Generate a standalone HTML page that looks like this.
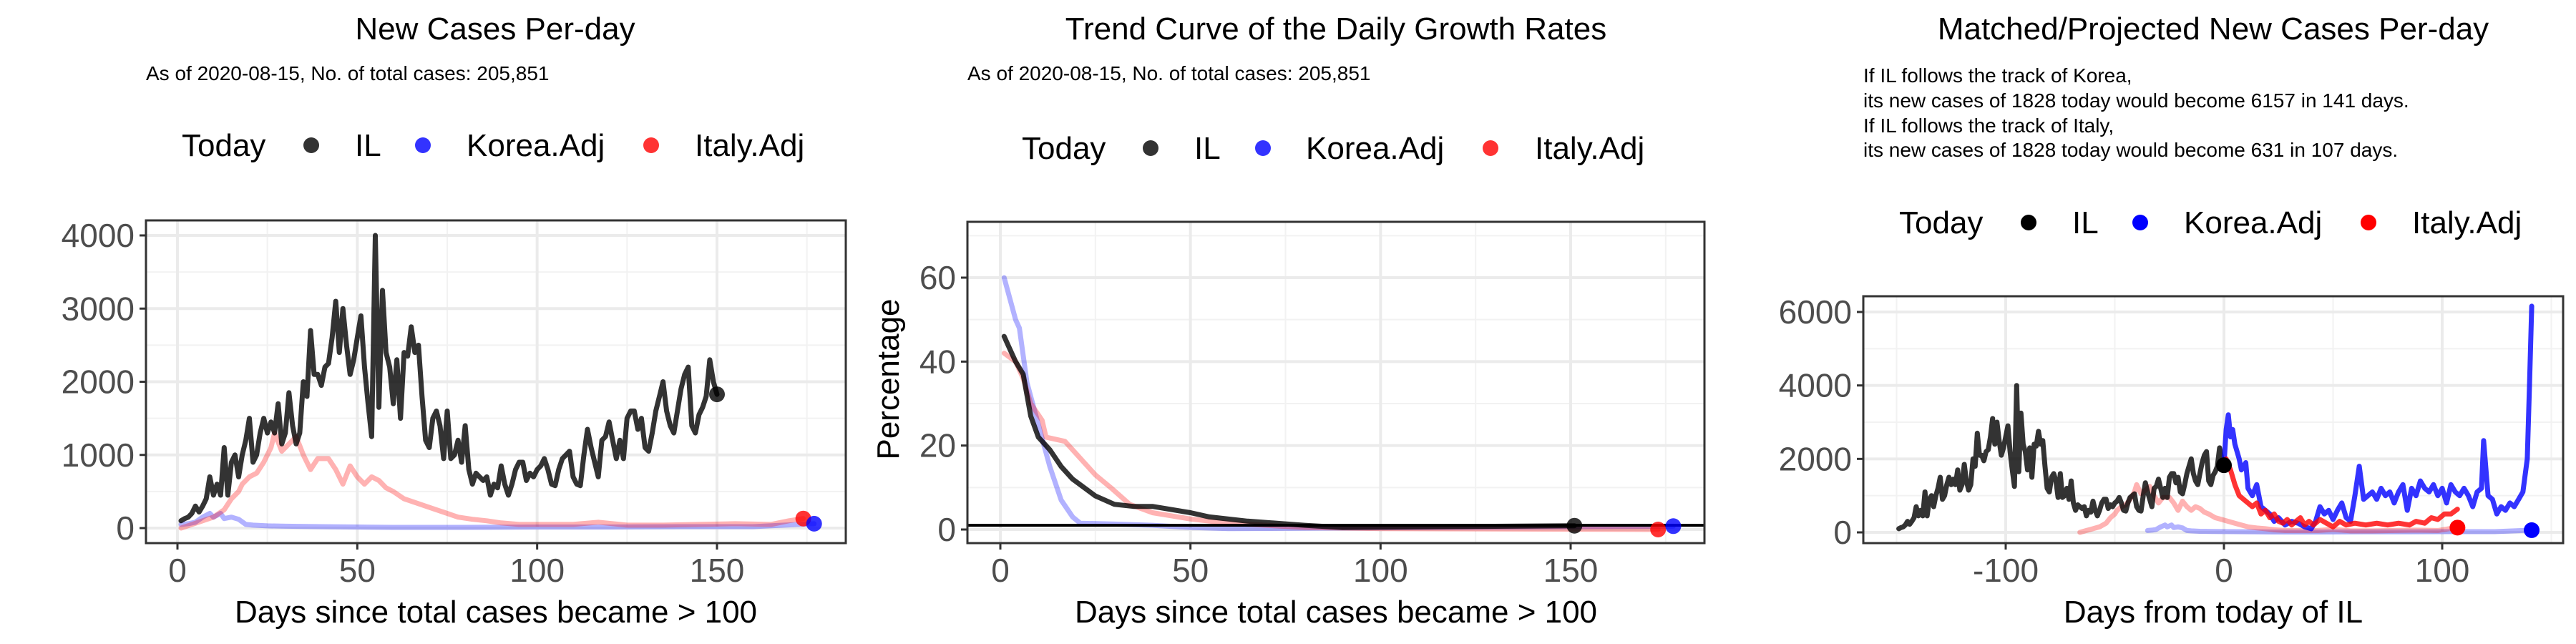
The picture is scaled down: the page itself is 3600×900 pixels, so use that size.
<!DOCTYPE html>
<html><head><meta charset="utf-8"><style>
html,body{margin:0;padding:0;background:#fff}
svg{display:block;font-family:"Liberation Sans",Arial,sans-serif}
</style></head><body>
<svg id="root" width="3600" height="900" viewBox="0 0 3600 900" xmlns="http://www.w3.org/2000/svg">
<rect width="3600" height="900" fill="#fff"/>
<g>
<text x="692" y="55" font-size="44" text-anchor="middle">New Cases Per-day</text>
<text x="204" y="112" font-size="28">As of 2020-08-15, No. of total cases: 205,851</text>
</g>
<g>
<text x="1867" y="55" font-size="44" text-anchor="middle">Trend Curve of the Daily Growth Rates</text>
<text x="1352" y="112" font-size="28">As of 2020-08-15, No. of total cases: 205,851</text>
</g>
<g>
<text x="3093" y="55" font-size="44" text-anchor="middle">Matched/Projected New Cases Per-day</text>
<g font-size="28">
<text x="2604" y="115">If IL follows the track of Korea,</text>
<text x="2604" y="150">its new cases of 1828 today would become 6157 in 141 days.</text>
<text x="2604" y="185">If IL follows the track of Italy,</text>
<text x="2604" y="219">its new cases of 1828 today would become 631 in 107 days.</text>
</g>
</g>
<g id="p1"></g>
<g id="p2"></g>
<g id="p3"></g>
<g id="legends"></g>
</svg>
<script>
// ---- data ----
const ilCases = [100,130,150,200,300,220,300,400,700,450,600,450,1100,450,900,1000,700,1000,1200,1500,
900,1000,1300,1500,1300,1450,1300,1700,1150,1300,1850,1400,1150,1300,2000,1800,2700,2100,2100,1950,
2200,2250,2600,3100,2400,3000,2500,2100,2300,2600,2900,2200,1700,1250,4000,1650,3250,2400,2200,1700,
2300,1500,2400,2350,2750,2400,2500,1800,1200,1100,1500,1600,1400,950,1600,950,1000,1200,900,1400,
800,600,750,700,650,700,450,600,550,850,600,450,600,800,900,900,650,750,700,800,
850,950,800,600,580,800,950,1000,1050,700,600,580,1000,1350,1100,900,700,1200,1250,1450,
1200,950,1200,950,1500,1600,1600,1350,1500,1100,1050,1300,1600,1800,2000,1600,1400,1300,1600,1900,
2100,2200,1400,1300,1550,1650,1800,2300,2000,1828];
const koreaDays = [1,3,5,7,9,10,12,13,15,17,19,21,25,30,40,50,60,80,100,120,140,160,177];
const koreaCases = [50,60,80,150,200,150,200,130,150,120,50,40,30,25,20,15,10,10,15,15,20,20,60];
const italyDays = [1,4,7,10,13,15,17,18,20,22,24,26,27,29,31,33,35,37,39,42,44,46,48,50,52,54,56,58,60,63,66,69,72,75,78,82,86,90,95,100,110,117,125,135,145,155,165,170,174];
const italyCases = [0,50,100,150,250,400,500,600,700,750,900,1100,1300,1050,1150,1250,1000,800,950,950,800,600,850,700,600,700,650,550,500,400,350,300,250,200,150,120,100,70,50,50,50,80,40,40,50,60,50,100,130];
const ilRateDays = [1,2,4,6,8,10,13,16,19,22,25,30,35,40,50,55,65,80,90,120,151];
const ilRate = [46,44,40,37,27,22,19,15,12,10,8,6,5.5,5.5,4,3,2,1,0.5,0.7,0.9];
const koreaRateDays = [1,4,5,7,10,13,16,19,21,30,40,50,60,177];
const koreaRate = [60,50,48,35,25,15,7,3,1.5,1.3,1,0.5,0.2,0.8];
const italyRateDays = [1,4,6,8,11,12,17,21,25,29,34,40,50,60,80,100,173];
const italyRate = [42,40,36,30,26,22,21,17,13,10,6,4,2.5,1.5,0.5,0.2,0];
const koreaProjDays = [0,1,2,3,4,5,7,8,10,11,13,15,17,19,21,23,25,28,31,34,37,40,42,44,46,48,50,52,54,56,58,60,62,64,66,68,70,72,74,76,78,80,82,84,86,88,90,92,94,96,98,100,102,104,106,108,110,112,114,116,118,119,121,123,125,127,129,131,133,135,137,139,140,141];
const koreaProj = [1828,2800,3200,2600,2800,2400,2000,1700,1900,1200,1000,1300,700,600,500,300,400,200,300,250,150,100,300,700,500,600,350,600,800,400,300,1000,1800,900,1000,1100,900,1200,1000,1100,800,1100,1300,600,1200,1000,1400,1200,1100,1300,1000,1200,800,1300,1100,1000,1200,1000,700,1100,1200,2500,1000,900,500,700,600,800,700,900,1100,2000,4000,6157];
const italyProjDays = [0,1,3,5,7,9,11,13,15,17,19,21,23,25,27,29,31,33,35,37,39,41,44,47,50,53,56,60,65,70,75,80,85,88,92,95,98,101,104,107];
const italyProj = [1828,2000,1700,1300,1000,900,800,700,800,500,600,400,500,300,250,350,200,300,400,200,300,200,350,250,150,300,200,250,200,250,200,250,200,300,250,400,350,500,500,631];
const IL_TODAY = 150, KOREA_SHIFT = -36, ITALY_SHIFT = -67;
const p1xTicks = [0,50,100,150], p1yTicks = [0,1000,2000,3000,4000];
const p2xTicks = [0,50,100,150], p2yTicks = [0,20,40,60];
const p3xTicks = [-100,0,100], p3yTicks = [0,2000,4000,6000];

const NS = "http://www.w3.org/2000/svg";
function mk(parent, tag, attrs){const e=document.createElementNS(NS,tag);for(const k in attrs)e.setAttribute(k,attrs[k]);parent.appendChild(e);return e;}
function lin(d0,d1,r0,r1){return v=>r0+(v-d0)*(r1-r0)/(d1-d0);}

function panel(g, box, sx, sy, xTicks, yTicks, xMinor, yMinor, xTitle){
  const bg=mk(g,'rect',{x:box.x0,y:box.y0,width:box.x1-box.x0,height:box.y1-box.y0,fill:'#fff'});
  
  
  xMinor.forEach(v=>{const l=mk(g,'line',{x1:sx(v),x2:sx(v),y1:box.y0,y2:box.y1,stroke:'#f2f2f2','stroke-width':2});
    });
  yMinor.forEach(v=>{const l=mk(g,'line',{x1:box.x0,x2:box.x1,y1:sy(v),y2:sy(v),stroke:'#f2f2f2','stroke-width':2});
    });
  xTicks.forEach(v=>{const l=mk(g,'line',{x1:sx(v),x2:sx(v),y1:box.y0,y2:box.y1,stroke:'#ebebeb','stroke-width':4});
    
    const t=mk(g,'line',{x1:sx(v),x2:sx(v),y1:box.y1,y2:box.y1+9,stroke:'#333','stroke-width':3});
    
    const tx=mk(g,'text',{x:sx(v),y:box.y1+54,'font-size':46,fill:'#4d4d4d','text-anchor':'middle'});tx.textContent=v;
    });
  yTicks.forEach(v=>{const l=mk(g,'line',{x1:box.x0,x2:box.x1,y1:sy(v),y2:sy(v),stroke:'#ebebeb','stroke-width':4});
    
    const t=mk(g,'line',{x1:box.x0-9,x2:box.x0,y1:sy(v),y2:sy(v),stroke:'#333','stroke-width':3});
    
    const tx=mk(g,'text',{x:box.x0-16,y:sy(v)+16,'font-size':46,fill:'#4d4d4d','text-anchor':'end'});tx.textContent=v;
    });
  const xt=mk(g,'text',{x:(box.x0+box.x1)/2,y:870,'font-size':44,'text-anchor':'middle'});xt.textContent=xTitle;
  
}
function frame(g,box){const r=mk(g,'rect',{x:box.x0,y:box.y0,width:box.x1-box.x0,height:box.y1-box.y0,fill:'none',stroke:'#333','stroke-width':3});
  }
function line(g,xs,ys,sx,sy,color,name){
  const pts=xs.map((x,i)=>sx(x).toFixed(1)+','+sy(ys[i]).toFixed(1)).join(' ');
  const p=mk(g,'polyline',{points:pts,fill:'none',stroke:color,'stroke-width':7,'stroke-linejoin':'round','stroke-linecap':'round'});
  
}
function dot(g,x,y,color,name){const c=mk(g,'circle',{cx:x,cy:y,r:11,fill:color});
  }

const ilDays = ilCases.map((_,i)=>i+1);
const BLUEF='rgba(0,0,255,0.3)', REDF='rgba(255,0,0,0.3)', BLK='rgba(0,0,0,0.8)';

// Panel 1
{const g=document.getElementById('p1');const box={x0:204,x1:1182,y0:308,y1:759};
 const sx=lin(0,150,248,1002), sy=lin(0,4000,738,329);
 panel(g,box,sx,sy,p1xTicks,p1yTicks,[25,75,125,175],[500,1500,2500,3500],'Days since total cases became > 100');
 line(g,koreaDays,koreaCases,sx,sy,BLUEF,'korea-line');
 line(g,italyDays,italyCases,sx,sy,REDF,'italy-line');
 line(g,ilDays,ilCases,sx,sy,BLK,'il-line');
 dot(g,sx(IL_TODAY),sy(ilCases[ilCases.length-1]),BLK,'il-today-dot');
 dot(g,sx(italyDays[italyDays.length-1]),sy(italyCases[italyCases.length-1]),'rgba(255,0,0,0.8)','italy-today-dot');
 dot(g,sx(koreaDays[koreaDays.length-1]),sy(koreaCases[koreaCases.length-1]),'rgba(0,0,255,0.8)','korea-today-dot');
 frame(g,box);}

// Panel 2
{const g=document.getElementById('p2');const box={x0:1352,x1:2382,y0:310,y1:759};
 const sx=lin(0,150,1398,2195), sy=lin(0,60,740,388);
 panel(g,box,sx,sy,p2xTicks,p2yTicks,[25,75,125,175],[10,30,50,70],'Days since total cases became > 100');
 const yt=mk(g,'text',{x:0,y:0,'font-size':44,'text-anchor':'middle',transform:'translate(1256,530) rotate(-90)'});yt.textContent='Percentage';
 
 line(g,koreaRateDays,koreaRate,sx,sy,BLUEF,'korea-rate-line');
 line(g,italyRateDays,italyRate,sx,sy,REDF,'italy-rate-line');
 line(g,ilRateDays,ilRate,sx,sy,BLK,'il-rate-line');
 const h=mk(g,'line',{x1:box.x0,x2:box.x1,y1:sy(1),y2:sy(1),stroke:'#000','stroke-width':4});
 
 dot(g,sx(ilRateDays[ilRateDays.length-1]),sy(ilRate[ilRate.length-1]),BLK,'il-today-dot');
 dot(g,sx(italyRateDays[italyRateDays.length-1]),sy(italyRate[italyRate.length-1]),'rgba(255,0,0,0.8)','italy-today-dot');
 dot(g,sx(koreaRateDays[koreaRateDays.length-1]),sy(koreaRate[koreaRate.length-1]),'rgba(0,0,255,0.8)','korea-today-dot');
 frame(g,box);}

// Panel 3
{const g=document.getElementById('p3');const box={x0:2604,x1:3582,y0:414,y1:759};
 const sx=lin(0,100,3108,3413), sy=lin(0,6000,744,436);
 panel(g,box,sx,sy,p3xTicks,p3yTicks,[-150,-50,50,150],[1000,3000,5000],'Days from today of IL');
 line(g,koreaDays.map(d=>d+KOREA_SHIFT),koreaCases,sx,sy,BLUEF,'korea-history-line');
 line(g,italyDays.map(d=>d+ITALY_SHIFT),italyCases,sx,sy,REDF,'italy-history-line');
 line(g,ilDays.map(d=>d-IL_TODAY),ilCases,sx,sy,BLK,'il-line');
 line(g,koreaProjDays,koreaProj,sx,sy,'rgba(0,0,255,0.8)','korea-projection-line');
 line(g,italyProjDays,italyProj,sx,sy,'rgba(255,0,0,0.8)','italy-projection-line');
 dot(g,sx(0),sy(ilCases[ilCases.length-1]),'#000','il-today-dot');
 dot(g,sx(italyDays[italyDays.length-1]+ITALY_SHIFT),sy(italyCases[italyCases.length-1]),'#f00','italy-today-dot');
 dot(g,sx(koreaDays[koreaDays.length-1]+KOREA_SHIFT),sy(koreaCases[koreaCases.length-1]),'#00f','korea-today-dot');
 frame(g,box);}

// Legends
{const g=document.getElementById('legends');
 const specs=[
  {y:218,x:[254,435,496,591,652,910,971],c:['rgba(0,0,0,0.8)','rgba(0,0,255,0.8)','rgba(255,0,0,0.8)']},
  {y:222,x:[1428,1608,1669,1765,1825,2083,2145],c:['rgba(0,0,0,0.8)','rgba(0,0,255,0.8)','rgba(255,0,0,0.8)']},
  {y:326,x:[2654,2835,2896,2991,3052,3310,3371],c:['#000','#00f','#f00']}];
 const labels=['IL','Korea.Adj','Italy.Adj'];
 specs.forEach(s=>{
  const t=mk(g,'text',{x:s.x[0],y:s.y,'font-size':44});t.textContent='Today';
  
  for(let i=0;i<3;i++){
   const c=mk(g,'circle',{cx:s.x[1+2*i],cy:s.y-15,r:11,fill:s.c[i]});
   
   const l=mk(g,'text',{x:s.x[2+2*i],y:s.y,'font-size':44});l.textContent=labels[i];
   
  }});
}
</script>
</body></html>
